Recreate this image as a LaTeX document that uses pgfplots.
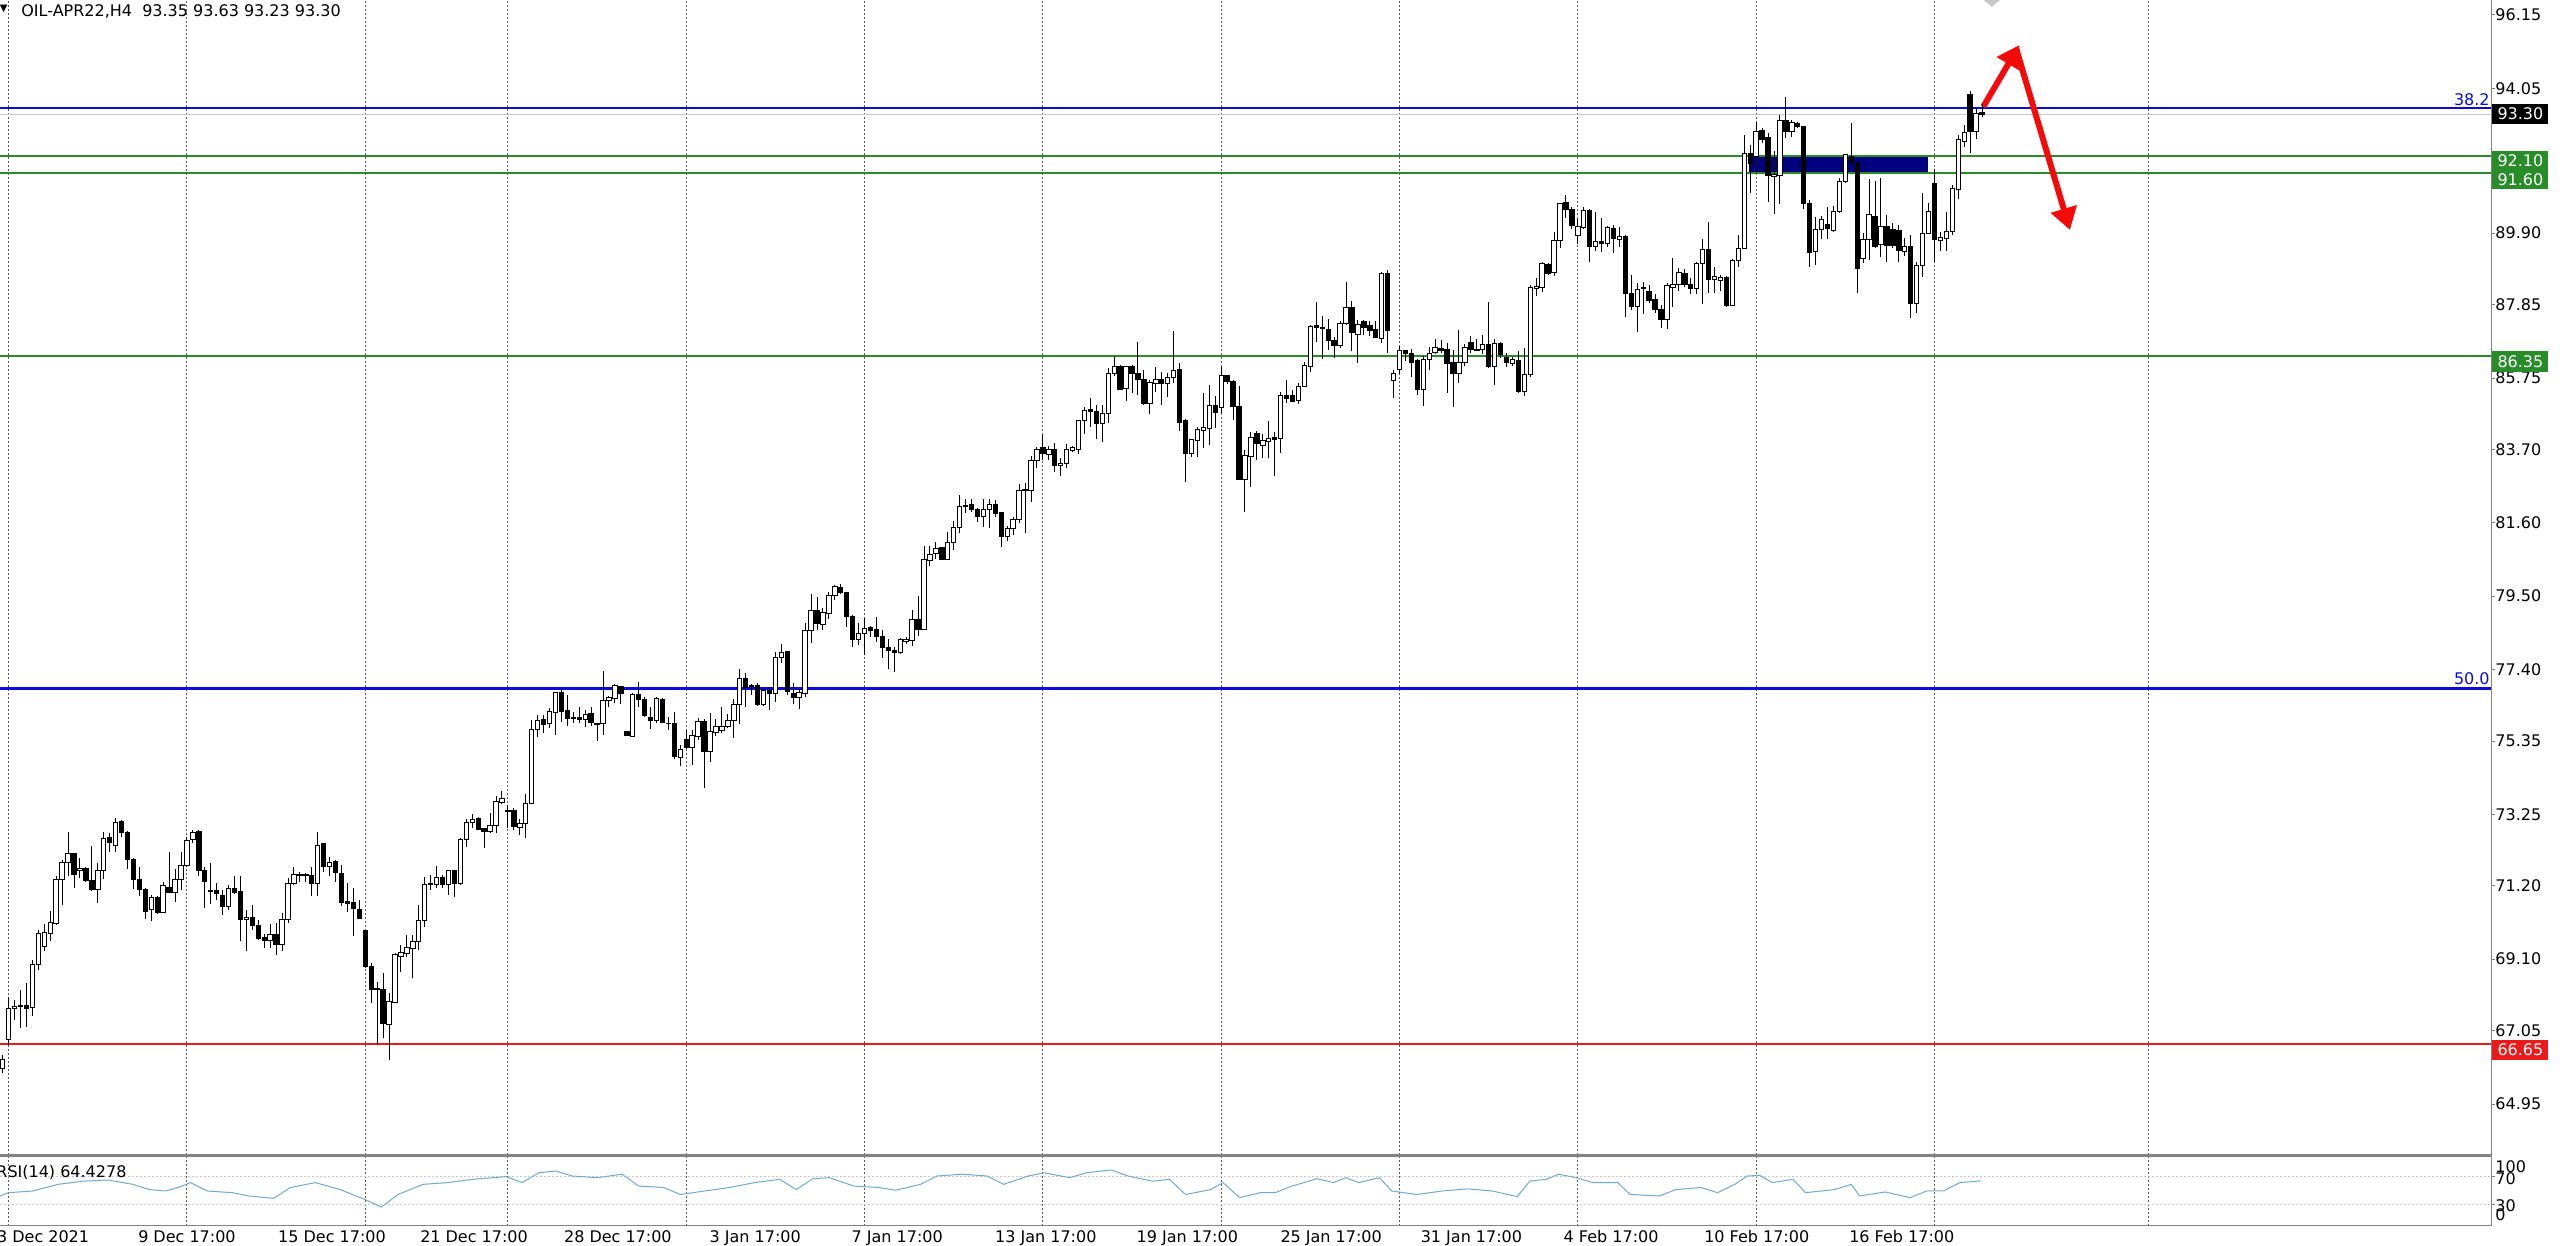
\documentclass[border=0pt]{standalone}
\usepackage{pgfplots}
\pgfplotsset{compat=1.18}
\usepackage{pgfplotstable}
\usepackage{fontspec}
\setmainfont{DejaVu Sans}
\usetikzlibrary{arrows.meta}

\definecolor{fibblue}{RGB}{10,10,220}
\definecolor{lvlgreen}{RGB}{40,140,40}
\definecolor{lvlred}{RGB}{235,25,25}
\definecolor{navyrect}{RGB}{0,0,128}
\definecolor{gridc}{RGB}{90,90,90}
\definecolor{rsic}{RGB}{110,170,210}
\definecolor{axisgray}{RGB}{130,130,130}
\definecolor{arrowred}{RGB}{245,10,10}
\definecolor{bidgray}{RGB}{200,200,200}

\pgfplotstableread{
i r
0.55 42.9
1.94 47.6
6.1 50
10.3 59.5
14.5 64
18.7 65.7
22.9 59.5
25.7 52
28.4 50
30.5 55
32.6 62
35.4 50
39.6 47.6
42.4 42.9
46.6 39.5
49.4 55
53.6 62
57.8 52
61.9 38
64.7 27
67.5 45
71.7 59.5
75.9 62
80.1 66.7
85.7 70.5
88.4 62
91.2 76
94.0 78.6
96.8 71.4
101.0 69
105.2 74
108.0 57
112.2 55
115.0 45
119.1 50
123.3 55
127.5 62
131.7 66.7
134.5 52
137.3 67.6
140.1 69
144.2 57
148.4 55
151.2 51
155.4 59.5
158.2 71.4
162.4 74
166.6 71.4
169.4 59.5
173.5 71.4
176.3 76
180.5 69
183.3 76
187.5 80
190.3 71.4
194.5 64
197.3 66.7
200.0 45
204.2 52
206.3 62
209.1 40.5
212.6 47.6
215.1 47.6
217.9 57
222.1 67.6
224.9 62
227.0 69
229.1 62
232.6 69
234.7 50
238.9 45
243.2 50
247.4 53
251.6 50
255.8 42
257.9 64
260.7 66.7
262.8 74
265.7 69
268.5 62
272.7 62
274.8 45
279.7 42.9
282.5 52
286.7 55
289.5 47.6
292.4 59.5
294.5 71.4
296.6 72.4
298.7 62
302.2 66.7
304.3 47.6
309.2 52
312.0 59.5
313.4 42.9
317.7 48.6
321.9 40.5
324.7 50
327.5 50
330.3 62
333.8 64.4
}\rsi

\newcommand\yu{17.4524}
\pgfdeclareplotmark{candle}{%
  \pgfmathsetmacro\dO{(\vo-\vc)*\yu}%
  \pgfmathsetmacro\dH{(\vh-\vc)*\yu}%
  \pgfmathsetmacro\dL{(\vl-\vc)*\yu}%
  \pgfsetlinewidth{0.5pt}%
  \pgfsetstrokecolor{black}%
  \pgfpathmoveto{\pgfpoint{0pt}{\dL pt}}%
  \pgfpathlineto{\pgfpoint{0pt}{\dH pt}}%
  \pgfusepathqstroke
  \pgfpathrectanglecorners{\pgfpoint{-1.1pt}{0pt}}{\pgfpoint{1.1pt}{\dO pt}}%
  \ifdim\dO pt>0pt \pgfsetfillcolor{black}\else\pgfsetfillcolor{white}\fi
  \pgfusepathqfillstroke
}

\begin{document}
\begin{tikzpicture}[font=\fontsize{8}{9.6}\selectfont]
\useasboundingbox (0,0) rectangle (1280pt,623pt);
\begin{axis}[
  at={(0pt,45.5pt)}, anchor=south west,
  scale only axis, width=1245.5pt, height=577.5pt,
  xmin=0.546, xmax=419.63, ymin=63.49, ymax=96.58,
  axis line style={draw=none},
  xtick={2,32,62,86,116,146,176,206,236,266,296,326,362},
  xticklabels={},
  xmajorgrids,
  x tick style={draw=none},
  major grid style={gridc, line width=0.5pt, dash pattern=on 1pt off 1pt},
  ytick={96.15,94.05,89.90,87.85,85.75,83.70,81.60,79.50,77.40,75.35,73.25,71.20,69.10,67.05,64.95},
  yticklabels={96.15,94.05,89.90,87.85,85.75,83.70,81.60,79.50,77.40,75.35,73.25,71.20,69.10,67.05,64.95},
  ytick pos=right, yticklabel pos=right,
  tick align=outside, major tick length=2pt,
  y tick style={axisgray, line width=0.5pt},
  yticklabel style={anchor=west, inner sep=0pt, font=\fontsize{8}{9.6}\selectfont},
]
\addplot[draw=none, fill=navyrect] coordinates {(294.8,91.65) (324.9,91.65) (324.9,92.12) (294.8,92.12)} -- cycle;
\addplot[scatter, only marks, mark=candle,
  scatter/@pre marker code/.code={\pgfscope},
  scatter/@post marker code/.code={\endpgfscope},
  visualization depends on={\thisrow{o} \as \vo},
  visualization depends on={\thisrow{h} \as \vh},
  visualization depends on={\thisrow{l} \as \vl},
  visualization depends on={\thisrow{c} \as \vc},
] table[x=i, y=c] {
i o h l c
1 65.98 66.36 65.83 66.24
2 66.79 68.03 66.65 67.70
3 67.70 67.93 67.36 67.74
4 67.73 68.22 67.12 67.77
5 67.77 68.41 67.17 67.70
6 67.72 69.08 67.46 68.94
7 68.94 69.94 68.80 69.84
8 69.46 70.11 69.32 69.87
9 69.84 70.47 69.61 70.15
10 70.11 71.47 70.08 71.37
11 71.37 71.95 70.66 71.88
12 71.88 72.73 71.47 72.12
13 72.12 72.14 71.13 71.54
14 71.64 71.99 71.42 71.69
15 71.69 71.75 71.32 71.35
16 71.35 72.35 71.04 71.11
17 71.11 71.85 70.72 71.64
18 71.64 72.73 71.39 72.57
19 72.59 72.71 72.16 72.44
20 72.35 73.14 72.16 73.02
21 73.04 73.09 72.61 72.73
22 72.73 72.76 71.68 71.96
23 71.96 71.99 71.11 71.37
24 71.37 71.75 70.90 71.11
25 71.09 71.13 70.25 70.47
26 70.51 70.94 70.18 70.87
27 70.87 70.91 70.40 70.44
28 70.44 71.32 70.42 71.20
29 71.16 72.16 70.99 71.01
30 71.01 71.68 70.75 71.39
31 71.37 72.16 71.07 71.78
32 71.78 72.61 71.75 72.49
33 72.54 72.79 72.44 72.73
34 72.76 72.79 71.47 71.64
35 71.64 71.75 70.56 71.32
36 71.07 71.85 70.68 71.03
37 71.06 71.28 70.80 70.97
38 70.93 71.07 70.37 70.61
39 70.61 71.23 70.51 71.13
40 71.13 71.49 70.97 71.01
41 71.04 71.47 69.61 70.23
42 70.23 70.51 69.32 70.29
43 70.29 70.66 69.94 70.06
44 70.06 70.23 69.65 69.70
45 69.72 69.83 69.42 69.64
46 69.64 70.11 69.42 69.80
47 69.80 70.13 69.22 69.51
48 69.51 70.42 69.32 70.25
49 70.25 71.42 70.13 71.28
50 71.28 71.73 71.23 71.52
51 71.54 71.61 71.32 71.50
52 71.52 71.56 71.32 71.49
53 71.49 71.75 70.90 71.26
54 71.26 72.75 70.90 72.37
55 72.40 72.44 71.61 71.75
56 71.75 72.04 71.47 71.87
57 71.90 71.93 71.32 71.58
58 71.56 71.80 70.63 70.72
59 70.75 71.27 70.46 70.70
60 70.72 71.13 69.75 70.56
61 70.53 70.80 70.25 70.27
62 69.91 69.94 68.84 68.89
63 68.89 68.98 67.84 68.24
64 68.27 68.46 66.64 68.24
65 68.24 68.71 66.83 67.26
66 67.24 68.12 66.21 67.88
67 67.86 69.27 67.84 69.22
68 69.19 69.51 68.74 69.29
69 69.27 69.79 69.17 69.44
70 69.41 69.79 68.55 69.60
71 69.60 70.65 69.36 70.22
72 70.22 71.46 70.03 71.24
73 71.23 71.51 71.08 71.27
74 71.25 71.77 71.13 71.44
75 71.44 71.51 71.13 71.23
76 71.23 71.66 70.94 71.63
77 71.63 71.66 70.89 71.27
78 71.27 72.56 71.23 72.52
79 72.52 73.11 72.32 73.01
80 73.01 73.26 72.85 73.11
81 73.14 73.18 72.80 72.82
82 72.85 72.87 72.28 72.75
83 72.75 73.28 72.71 72.94
84 72.94 73.78 72.71 73.61
85 73.58 73.93 73.55 73.71
86 73.36 73.52 72.85 73.33
87 73.37 73.42 72.80 72.90
88 72.88 73.11 72.66 72.99
89 72.99 73.83 72.56 73.55
90 73.57 75.95 73.55 75.69
91 75.67 76.10 75.46 75.93
92 75.97 76.10 75.57 75.81
93 75.84 76.29 75.71 76.19
94 76.16 76.76 75.52 76.74
95 76.74 76.83 75.90 76.19
96 76.21 76.67 75.78 76.00
97 76.03 76.19 75.86 75.99
98 76.02 76.33 75.86 75.98
99 75.97 76.24 75.76 76.11
100 76.14 76.33 75.78 75.88
101 75.86 75.88 75.36 75.83
102 75.84 77.37 75.52 76.51
103 76.52 76.64 76.33 76.60
104 76.57 76.98 76.43 76.93
105 76.91 76.93 76.41 76.72
106 75.62 75.65 75.49 75.52
107 75.49 76.72 75.48 76.67
108 76.69 77.05 76.33 76.53
109 76.55 76.62 76.05 76.07
110 76.03 76.33 75.69 75.95
111 75.93 76.62 75.86 76.57
112 76.55 76.57 75.86 75.88
113 75.86 76.05 75.67 75.84
114 75.84 76.19 74.83 74.90
115 74.88 75.24 74.62 75.11
116 75.40 75.67 75.11 75.17
117 75.16 75.67 74.66 75.52
118 75.49 76.00 75.38 75.91
119 75.91 75.97 73.99 75.05
120 75.05 76.14 74.76 75.62
121 75.60 75.97 75.48 75.76
122 75.65 76.32 75.57 75.78
123 75.76 76.12 75.71 75.93
124 75.93 76.55 75.43 76.41
125 76.41 77.40 75.84 77.15
126 77.15 77.31 76.32 76.89
127 76.95 76.98 76.67 76.91
128 76.93 77.00 76.34 76.41
129 76.41 76.86 76.34 76.81
130 76.81 76.89 76.24 76.70
131 76.70 77.91 76.48 77.75
132 77.75 78.13 77.58 77.88
133 77.91 77.94 76.67 76.77
134 76.72 77.00 76.41 76.60
135 76.60 76.83 76.26 76.74
136 76.72 78.72 76.62 78.51
137 78.51 79.56 78.17 79.10
138 79.09 79.49 78.53 78.72
139 78.68 79.15 78.53 79.03
140 79.01 79.63 78.84 79.51
141 79.51 79.82 79.39 79.79
142 79.75 79.84 79.56 79.60
143 79.60 79.63 78.63 78.91
144 78.93 78.96 78.05 78.25
145 78.25 78.74 78.10 78.44
146 78.42 78.87 77.82 78.58
147 78.59 78.65 78.34 78.53
148 78.55 78.89 78.20 78.34
149 78.34 78.53 77.72 78.04
150 78.04 78.26 77.40 77.94
151 77.94 78.05 77.34 77.90
152 77.88 78.29 77.84 78.25
153 78.21 78.32 78.13 78.25
154 78.23 79.10 78.07 78.84
155 78.84 79.51 78.36 78.55
156 78.55 80.94 78.53 80.54
157 80.52 80.94 80.37 80.68
158 80.73 81.06 80.56 80.87
159 80.90 80.92 80.54 80.56
160 80.56 81.35 80.54 81.03
161 81.03 81.66 80.82 81.47
162 81.47 82.40 81.30 82.08
163 82.10 82.27 81.89 82.06
164 82.14 82.27 81.92 81.97
165 81.97 82.02 81.63 81.78
166 81.78 82.27 81.49 81.99
167 81.99 82.27 81.44 82.14
168 82.14 82.26 81.78 81.87
169 81.89 81.92 80.90 81.21
170 81.21 81.51 81.09 81.44
171 81.44 81.78 81.25 81.70
172 81.70 82.71 81.61 82.54
173 82.52 82.73 81.30 82.56
174 82.54 83.52 82.21 83.40
175 83.38 83.76 83.16 83.71
176 83.77 84.12 83.40 83.58
177 83.55 83.81 83.40 83.69
178 83.69 83.88 83.07 83.23
179 83.23 83.45 82.93 83.31
180 83.29 83.86 83.17 83.69
181 83.67 83.79 83.63 83.75
182 83.69 84.55 83.58 84.53
183 84.53 84.93 84.15 84.82
184 84.84 85.17 84.34 84.79
185 84.79 84.98 83.99 84.45
186 84.45 84.98 83.93 84.72
187 84.72 86.03 84.47 85.89
188 85.87 86.38 85.81 86.08
189 86.08 86.13 85.41 85.43
190 85.46 86.10 85.08 86.08
191 86.08 86.13 85.31 85.87
192 85.87 86.79 85.27 85.72
193 85.70 85.98 84.98 85.01
194 85.03 85.68 84.72 85.62
195 85.60 86.06 85.36 85.72
196 85.72 85.91 84.98 85.58
197 85.58 85.89 85.22 85.77
198 85.77 87.11 85.62 85.96
199 85.98 86.17 84.22 84.47
200 84.53 84.57 82.78 83.58
201 83.58 84.00 83.50 83.98
202 83.96 84.36 83.48 84.28
203 84.26 85.31 83.74 84.34
204 84.31 85.55 83.83 84.95
205 84.95 85.24 84.31 84.76
206 84.91 86.06 84.74 85.81
207 85.81 85.84 85.58 85.65
208 85.65 85.70 84.55 84.93
209 84.93 85.51 82.83 82.85
210 82.85 83.69 81.90 83.52
211 83.50 84.19 82.64 84.05
212 84.15 84.22 83.40 83.86
213 83.83 84.15 83.45 83.96
214 83.93 84.53 83.45 84.02
215 84.04 84.19 82.95 84.00
216 84.02 85.36 83.61 85.24
217 85.24 85.70 85.03 85.17
218 85.24 85.41 85.05 85.08
219 85.10 85.60 85.01 85.52
220 85.51 86.22 85.49 86.10
221 86.08 87.27 85.91 87.22
222 87.24 87.94 86.79 87.20
223 87.20 87.53 86.29 87.18
224 87.15 87.43 86.56 86.82
225 86.82 86.92 86.32 86.67
226 86.67 87.37 86.60 87.32
227 87.32 88.51 87.27 87.78
228 87.78 87.97 86.51 87.05
229 87.01 87.40 86.19 87.27
230 87.37 87.40 86.98 87.20
231 87.24 87.37 86.96 87.11
232 87.15 87.37 86.89 86.92
233 86.89 88.80 86.74 88.75
234 88.73 88.85 86.46 87.11
235 85.68 85.98 85.17 85.89
236 86.00 86.67 85.87 86.53
237 86.53 86.55 86.25 86.44
238 86.44 86.57 85.77 86.19
239 86.25 86.29 85.26 85.43
240 85.43 86.38 84.95 86.29
241 86.27 86.65 85.98 86.46
242 86.48 86.86 86.44 86.63
243 86.60 86.84 86.46 86.55
244 86.57 86.74 85.33 86.17
245 86.19 86.55 84.93 85.87
246 85.87 87.13 85.62 86.19
247 86.19 86.72 86.08 86.63
248 86.76 86.94 86.48 86.57
249 86.57 86.86 86.51 86.55
250 86.57 86.98 86.44 86.70
251 86.70 87.94 86.03 86.08
252 86.08 86.86 85.55 86.73
253 86.73 86.79 86.32 86.41
254 86.34 86.48 86.06 86.19
255 86.17 86.34 86.08 86.27
256 86.25 86.51 85.33 85.36
257 85.36 86.60 85.24 85.84
258 85.84 88.42 85.79 88.35
259 88.32 88.61 88.10 88.37
260 88.35 89.08 88.20 89.02
261 88.99 89.04 88.70 88.75
262 88.77 89.94 88.67 89.70
263 89.70 90.77 89.47 90.76
264 90.77 90.99 90.33 90.58
265 90.58 90.64 90.01 90.13
266 89.83 90.30 89.59 90.09
267 90.07 90.66 90.01 90.54
268 90.54 90.58 89.08 89.53
269 89.53 90.52 89.40 89.66
270 89.66 90.33 89.37 89.61
271 89.61 90.11 89.51 90.07
272 90.04 90.13 89.32 89.75
273 89.72 90.07 89.51 89.80
274 89.80 89.85 87.49 88.16
275 88.16 88.70 87.70 87.81
276 87.81 88.46 87.08 88.29
277 88.35 88.51 87.59 88.32
278 88.22 88.42 87.89 87.97
279 87.99 88.16 87.62 87.72
280 87.72 87.84 87.17 87.43
281 87.43 88.48 87.15 88.39
282 88.35 89.18 87.78 88.42
283 88.42 88.89 88.25 88.77
284 88.73 88.87 88.35 88.44
285 88.44 88.61 88.16 88.32
286 88.32 89.06 88.16 89.02
287 89.02 89.72 87.87 89.42
288 89.42 90.23 88.18 88.56
289 88.56 88.94 88.18 88.65
290 88.54 88.70 88.23 88.64
291 88.64 88.67 87.78 87.84
292 87.84 89.15 87.81 89.13
293 89.13 89.85 88.94 89.47
294 89.47 92.71 89.44 92.17
295 92.17 92.43 91.04 91.90
296 92.09 93.07 91.62 92.81
297 92.84 92.90 92.47 92.57
298 92.65 92.76 90.80 91.54
299 91.52 92.24 90.45 91.57
300 91.54 93.29 90.74 93.14
301 93.12 93.81 92.62 92.81
302 92.81 93.14 92.65 93.07
303 93.03 93.07 92.90 92.95
304 92.95 92.97 90.58 90.74
305 90.74 90.85 88.94 89.34
306 89.37 90.37 88.99 90.01
307 90.00 90.39 89.72 90.28
308 90.14 90.64 89.72 90.04
309 89.99 90.68 89.92 90.52
310 90.52 91.47 90.49 91.38
311 91.38 92.17 91.35 92.14
312 92.11 93.05 91.90 91.92
313 91.92 91.95 88.18 88.89
314 89.18 89.90 89.04 89.71
315 89.71 91.44 89.13 90.42
316 90.39 91.38 89.47 89.53
317 89.58 91.47 89.21 90.09
318 90.09 90.42 89.06 89.56
319 90.01 90.20 89.47 89.56
320 89.99 90.13 89.08 89.40
321 89.37 89.75 89.25 89.53
322 89.53 89.85 87.46 87.89
323 87.89 89.08 87.60 88.96
324 88.96 91.04 88.65 89.90
325 89.90 90.77 89.88 90.52
326 91.31 91.73 89.08 89.71
327 89.69 89.92 89.40 89.78
328 89.75 90.52 89.40 89.94
329 89.94 91.28 89.85 91.19
330 91.14 92.71 90.87 92.59
331 92.52 93.00 92.38 92.78
332 93.86 93.98 92.21 92.81
333 92.81 93.47 92.59 93.33
334 93.35 93.63 93.23 93.30
};
\addplot[bidgray, line width=0.5pt] coordinates {(0.546,93.30) (419.63,93.30)};
\addplot[fibblue, line width=1pt] coordinates {(0.546,93.48) (419.63,93.48)};
\addplot[fibblue, line width=1.3pt] coordinates {(0.546,76.86) (419.63,76.86)};
\addplot[lvlgreen, line width=1pt] coordinates {(0.546,92.12) (419.63,92.12)};
\addplot[lvlgreen, line width=1pt] coordinates {(0.546,91.63) (419.63,91.63)};
\addplot[lvlgreen, line width=1pt] coordinates {(0.546,86.38) (419.63,86.38)};
\addplot[lvlred, line width=1pt] coordinates {(0.546,66.66) (419.63,66.66)};
\addplot[draw=none, fill=black!22] coordinates {(334.3,96.58) (337.0,96.58) (335.65,96.38)} -- cycle;
\addplot[arrowred, line width=3pt, -{Triangle[length=11pt,width=13pt]}] coordinates {(334.2,93.52) (340.3,95.29)};
\addplot[arrowred, line width=3pt, line cap=round, -{Triangle[length=11pt,width=13pt]}] coordinates {(339.8,95.15) (348.8,89.99)};
\end{axis}

\begin{axis}[
  at={(0pt,10pt)}, anchor=south west,
  scale only axis, width=1245.5pt, height=35pt,
  xmin=0.546, xmax=419.63, ymin=0, ymax=100,
  axis line style={draw=none},
  xtick={7.8,32.0,56.4,80.3,104.5,127.6,151.5,176.5,200.3,224.5,248.1,271.6,296.1,320.5},
  xticklabels={3 Dec 2021,9 Dec 17:00,15 Dec 17:00,21 Dec 17:00,28 Dec 17:00,3 Jan 17:00,7 Jan 17:00,13 Jan 17:00,19 Jan 17:00,25 Jan 17:00,31 Jan 17:00,4 Feb 17:00,10 Feb 17:00,16 Feb 17:00},
  x tick style={draw=none},
  xticklabel style={anchor=north, inner sep=0pt, font=\fontsize{8}{9.6}\selectfont},
  extra x ticks={2,32,62,86,116,146,176,206,236,266,296,326,362},
  extra x tick labels={},
  extra x tick style={grid=major},
  major grid style={gridc, line width=0.5pt, dash pattern=on 1pt off 1pt},
  ytick={30,70}, yticklabels={},
  ytick pos=right, tick align=outside, major tick length=2pt,
  y tick style={axisgray, line width=0.5pt},
]
\addplot[bidgray, line width=0.5pt, dash pattern=on 1pt off 1pt] coordinates {(0.546,70) (419.63,70)};
\addplot[bidgray, line width=0.5pt, dash pattern=on 1pt off 1pt] coordinates {(0.546,30) (419.63,30)};
\addplot[rsic, line width=0.5pt] table[x=i, y=r] {\rsi};
\end{axis}

% frame
\draw[axisgray, line width=0.5pt] (1245.5pt,10pt) -- (1245.5pt,623pt);
\draw[axisgray, line width=1.2pt] (0pt,45.3pt) -- (1245.5pt,45.3pt);
\draw[axisgray, line width=0.5pt] (0pt,10.2pt) -- (1245.5pt,10.2pt);

% header
\node[anchor=center, inner sep=0pt, font=\fontsize{5}{6}\selectfont] at (1.9pt,618.3pt) {▼};
\node[anchor=west, inner sep=0pt] at (10.5pt,617pt) {OIL-APR22,H4\ \ 93.35 93.63 93.23 93.30};
\node[anchor=west, inner sep=0pt] at (-2pt,37pt) {RSI(14) 64.4278};

% level labels
\node[anchor=south east, inner sep=0pt, text=fibblue] at (1245pt,570pt) {38.2};
\node[anchor=south east, inner sep=0pt, text=fibblue] at (1245pt,280.5pt) {50.0};

% price boxes
\node[anchor=west, inner sep=0pt, fill=black, text=white, minimum width=28pt, minimum height=10pt] at (1246pt,566pt) {93.30};
\node[anchor=west, inner sep=0pt, fill=lvlgreen, text=white, minimum width=28pt, minimum height=9.4pt] at (1246pt,542.6pt) {92.10};
\node[anchor=west, inner sep=0pt, fill=lvlgreen, text=white, minimum width=28pt, minimum height=9.4pt] at (1246pt,533.2pt) {91.60};
\node[anchor=west, inner sep=0pt, fill=lvlgreen, text=white, minimum width=28pt, minimum height=10.5pt] at (1246pt,442pt) {86.35};
\node[anchor=west, inner sep=0pt, fill=lvlred, text=white, minimum width=28pt, minimum height=10.3pt] at (1246pt,98pt) {66.65};

% rsi scale labels
\node[anchor=west, inner sep=0pt] at (1247.5pt,39.5pt) {100};
\node[anchor=west, inner sep=0pt] at (1247.5pt,33.5pt) {70};
\node[anchor=west, inner sep=0pt] at (1247.5pt,20pt) {30};
\node[anchor=west, inner sep=0pt] at (1247.5pt,15.5pt) {0};
\end{tikzpicture}
\end{document}
